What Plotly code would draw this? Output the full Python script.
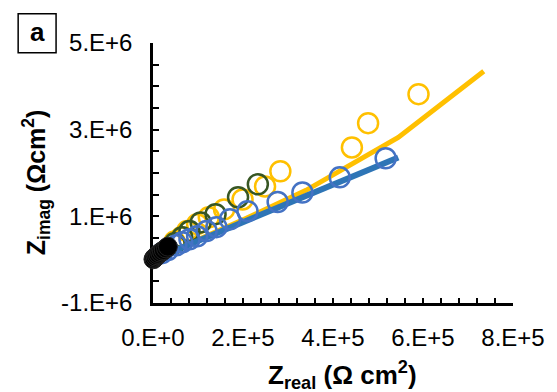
import plotly.graph_objects as go

# ---- data ----
yellow_x = [4.8e4, 6.3e4, 7.6e4, 9.8e4, 1.24e5, 1.58e5, 1.99e5, 2.49e5, 2.83e5, 4.42e5, 4.78e5, 5.9e5]
yellow_y = [0.42e6, 0.52e6, 0.66e6, 0.82e6, 0.98e6, 1.16e6, 1.39e6, 1.69e6, 2.04e6, 2.59e6, 3.15e6, 3.82e6]

green_x = [4.8e4, 6.5e4, 8.1e4, 1.06e5, 1.39e5, 1.89e5, 2.33e5]
green_y = [0.38e6, 0.52e6, 0.66e6, 0.86e6, 1.05e6, 1.44e6, 1.74e6]

blue_x = [2.0e4, 3.3e4, 5.2e4, 6.5e4, 8.1e4, 9.8e4, 1.19e5, 1.41e5, 1.71e5, 2.10e5, 2.77e5, 3.32e5, 4.15e5, 5.17e5]
blue_y = [0.15e6, 0.22e6, 0.33e6, 0.40e6, 0.47e6, 0.54e6, 0.66e6, 0.75e6, 0.93e6, 1.12e6, 1.33e6, 1.55e6, 1.90e6, 2.34e6]

black_x = [1e3, 3e3, 6e3, 9e3, 1.2e4, 1.6e4, 2.0e4, 2.4e4, 2.9e4, 3.3e4]
black_y = [0.01e6, 0.04e6, 0.07e6, 0.10e6, 0.13e6, 0.16e6, 0.19e6, 0.22e6, 0.26e6, 0.30e6]

yfit_x = [0, 1.0e5, 2.0e5, 3.4e5, 5.45e5, 7.35e5]
yfit_y = [0, 0.45e6, 0.92e6, 1.60e6, 2.82e6, 4.35e6]

bfit_x = [0, 5.45e5]
bfit_y = [0, 2.36e6]

x_tick_vals = [i * 4e4 for i in range(21)]
x_tick_text = {0: "0.E+0", 2e5: "2.E+5", 4e5: "4.E+5", 6e5: "6.E+5", 8e5: "8.E+5"}
y_tick_vals = [-1e6 + i * 0.5e6 for i in range(13)]
y_tick_text = {-1e6: "-1.E+6", 1e6: "1.E+6", 3e6: "3.E+6", 5e6: "5.E+6"}

FONT = "Liberation Sans, Arial, sans-serif"
YEL = "#FFC000"
BLU_M = "#4472C4"
BLU_L = "#2E75B6"
GRN = "#375623"

fig = go.Figure()


def open_markers(x, y, color):
    return go.Scatter(x=x, y=y, mode="markers", cliponaxis=False, showlegend=False,
                      marker=dict(symbol="circle-open", size=20, color=color, line=dict(width=2.5)))


fig.add_trace(go.Scatter(x=yfit_x, y=yfit_y, mode="lines", cliponaxis=False, showlegend=False,
                         line=dict(color=YEL, width=5)))
fig.add_trace(open_markers(yellow_x, yellow_y, YEL))
fig.add_trace(open_markers(green_x, green_y, GRN))
fig.add_trace(go.Scatter(x=bfit_x, y=bfit_y, mode="lines", cliponaxis=False, showlegend=False,
                         line=dict(color=BLU_L, width=6)))
fig.add_trace(open_markers(blue_x, blue_y, BLU_M))
fig.add_trace(go.Scatter(x=black_x, y=black_y, mode="markers", cliponaxis=False, showlegend=False,
                         marker=dict(symbol="circle", size=19, color="black",
                                     line=dict(color="#222222", width=1))))

W, H = 557, 392
L, R, T, B = 152.7, 523.0, 43.3, 303.5

fig.update_layout(
    width=W, height=H,
    margin=dict(l=L, r=W - R, t=T, b=H - B, pad=0),
    paper_bgcolor="white", plot_bgcolor="white",
    font=dict(family=FONT, size=24, color="black"),
    xaxis=dict(range=[0, 8e5], tickmode="array", tickvals=x_tick_vals,
               ticktext=[x_tick_text.get(v, "") for v in x_tick_vals],
               ticks="inside", ticklen=5, tickwidth=2, tickcolor="black",
               showline=True, linecolor="black", linewidth=2.5, showgrid=False,
               zeroline=False, ticklabelstandoff=11, layer="below traces",
               tickfont=dict(size=24)),
    yaxis=dict(range=[-1e6, 5e6], tickmode="array", tickvals=y_tick_vals,
               ticktext=[y_tick_text.get(v, "") for v in y_tick_vals],
               ticks="inside", ticklen=6, tickwidth=2, tickcolor="black",
               showline=True, linecolor="black", linewidth=2.5, showgrid=False,
               zeroline=False, ticklabelstandoff=13, layer="below traces",
               tickfont=dict(size=24)),
)

pw, ph = R - L, B - T


def px2paper(x, y):
    return (x - L) / pw, (B - y) / ph


x0, y0 = px2paper(14, 14)
x1, y1 = px2paper(53, 53)
fig.add_shape(type="rect", xref="paper", yref="paper", x0=x0, x1=x1, y0=y1, y1=y0,
              line=dict(color="black", width=1.5), fillcolor="white")
ax, ay = px2paper(33.5, 32)
fig.add_annotation(text="<b>a</b>", xref="paper", yref="paper", x=ax, y=ay,
                   showarrow=False, font=dict(size=26), xanchor="center", yanchor="middle")

tx, ty = px2paper(348, 376)
fig.add_annotation(text="<b>Z<sub>real</sub> (Ω cm<sup>2</sup>)</b>", xref="paper", yref="paper",
                   x=tx, y=ty, showarrow=False, font=dict(size=26),
                   xanchor="center", yanchor="middle")
yx, yy = px2paper(32, 183)
fig.add_annotation(text="<b>Z<sub>imag</sub> (Ωcm<sup>2</sup>)</b>", xref="paper", yref="paper",
                   x=yx, y=yy, showarrow=False, font=dict(size=25), textangle=-90,
                   xanchor="center", yanchor="middle")

fig.write_html("out.html")
